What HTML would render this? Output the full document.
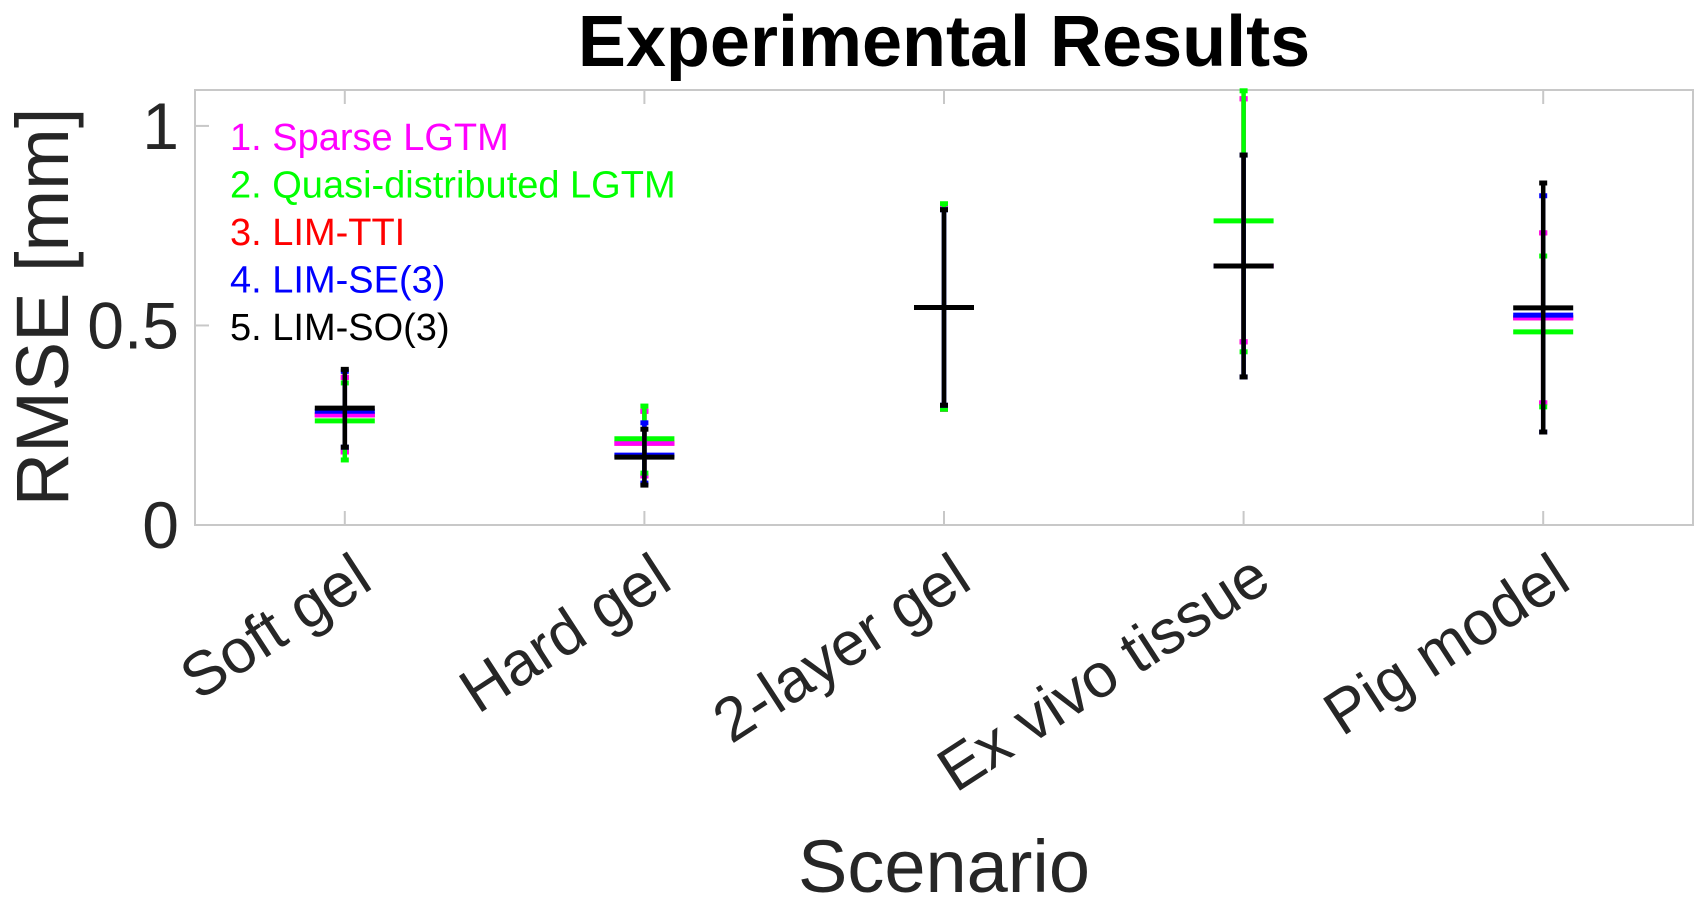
<!DOCTYPE html>
<html><head><meta charset="utf-8"><style>
html,body{margin:0;padding:0;background:#fff;}
svg{display:block;font-family:"Liberation Sans",Arial,sans-serif;}
</style></head><body>
<svg id="chart" width="1702" height="906" viewBox="0 0 1702 906">
<text x="944" y="66" text-anchor="middle" font-size="72" font-weight="bold" fill="#000">Experimental Results</text>
<rect x="195" y="90" width="1498" height="435" fill="#fff" stroke="#c8c8c8" stroke-width="2"/>
<g id="yaxis"></g>
<g id="xaxis"></g>
<g id="marks"></g>
<g id="legend"></g>
<text transform="translate(68,307) rotate(-90)" text-anchor="middle" font-size="74" fill="#262626">RMSE [mm]</text>
<text x="944" y="892" text-anchor="middle" font-size="74" fill="#262626">Scenario</text>
</svg>
<script>
const categories = ["Soft gel","Hard gel","2-layer gel","Ex vivo tissue","Pig model"];
const seriesNames = ["1. Sparse LGTM","2. Quasi-distributed LGTM","3. LIM-TTI","4. LIM-SE(3)","5. LIM-SO(3)"];
const seriesColors = ["#ff00ff","#00ff00","#ff0000","#0000ff","#000000"];
const meanSparse = [0.276,0.205,0.545,0.649,0.519];
const meanQuasi  = [0.261,0.216,0.545,0.762,0.484];
const meanTTI    = [0.276,0.205,0.545,0.649,0.519];
const meanSE3    = [0.285,0.175,0.545,0.649,0.526];
const meanSO3    = [0.293,0.170,0.545,0.649,0.544];
const upSparse = [0.370,0.285,0.795,1.068,0.732];
const upQuasi  = [0.356,0.298,0.805,1.088,0.674];
const upTTI    = [0.370,0.285,0.795,1.068,0.732];
const upSE3    = [0.385,0.256,0.790,0.927,0.825];
const upSO3    = [0.390,0.240,0.790,0.927,0.857];
const loSparse = [0.183,0.123,0.290,0.459,0.306];
const loQuasi  = [0.163,0.130,0.290,0.434,0.296];
const loTTI    = [0.183,0.123,0.290,0.459,0.306];
const loSE3    = [0.195,0.105,0.300,0.371,0.233];
const loSO3    = [0.195,0.100,0.300,0.371,0.233];
const yTicks = [0,0.5,1];
const yTickLabels = ["0","0.5","1"];

const means=[meanSparse,meanQuasi,meanTTI,meanSE3,meanSO3];
const ups=[upSparse,upQuasi,upTTI,upSE3,upSO3];
const los=[loSparse,loQuasi,loTTI,loSE3,loSO3];
const drawOrder=[2,0,1,3,4];
const L=195,R=1693,T=90,B=525,YMAX=1.09;
function xs(i){return L+(R-L)*(i+0.5)/categories.length;}
function ys(v){return B-(B-T)*v/YMAX;}
const NS="http://www.w3.org/2000/svg";
function mk(tag,attrs,parent){const e=document.createElementNS(NS,tag);for(const k in attrs)e.setAttribute(k,attrs[k]);parent.appendChild(e);return e;}
const ya=document.getElementById('yaxis'),xa=document.getElementById('xaxis'),mg=document.getElementById('marks'),lg=document.getElementById('legend');
yTicks.forEach((t,i)=>{
  const ln=mk('line',{x1:L,x2:L+14,y1:ys(t),y2:ys(t),stroke:'#c8c8c8','stroke-width':2},ya);
  
  
  const tx=mk('text',{x:L-16,y:ys(t)+23,'text-anchor':'end','font-size':66,fill:'#262626'},ya);
  tx.textContent=yTickLabels[i];
  
  
});
categories.forEach((c,i)=>{
  const x=xs(i);
  const t1=mk('line',{x1:x,x2:x,y1:B,y2:B-14,stroke:'#c8c8c8','stroke-width':2},xa);
  
  
  const t2=mk('line',{x1:x,x2:x,y1:T,y2:T+14,stroke:'#c8c8c8','stroke-width':2},xa);
  
  
  const tx=mk('text',{transform:`translate(${x+30},${B+62}) rotate(-33)`,'text-anchor':'end','font-size':62,fill:'#262626'},xa);
  tx.textContent=c;
  
  
});
drawOrder.forEach(s=>{
  const m=means[s];
  const col=seriesColors[s];
  categories.forEach((c,i)=>{
    const x=xs(i);
    const g=mk('g',{},mg);
    
    
    mk('line',{x1:x,x2:x,y1:ys(ups[s][i]),y2:ys(los[s][i]),stroke:col,'stroke-width':4.5},g);
    mk('line',{x1:x-4,x2:x+4,y1:ys(ups[s][i]),y2:ys(ups[s][i]),stroke:col,'stroke-width':5},g);
    mk('line',{x1:x-4,x2:x+4,y1:ys(los[s][i]),y2:ys(los[s][i]),stroke:col,'stroke-width':5},g);
    mk('line',{x1:x-30,x2:x+30,y1:ys(m[i]),y2:ys(m[i]),stroke:col,'stroke-width':5},g);
  });
});
seriesNames.forEach((n,s)=>{
  const tx=mk('text',{x:230,y:150+s*47.5,'font-size':38,fill:seriesColors[s]},lg);
  tx.textContent=n;
  
  
});
</script>
</body></html>
